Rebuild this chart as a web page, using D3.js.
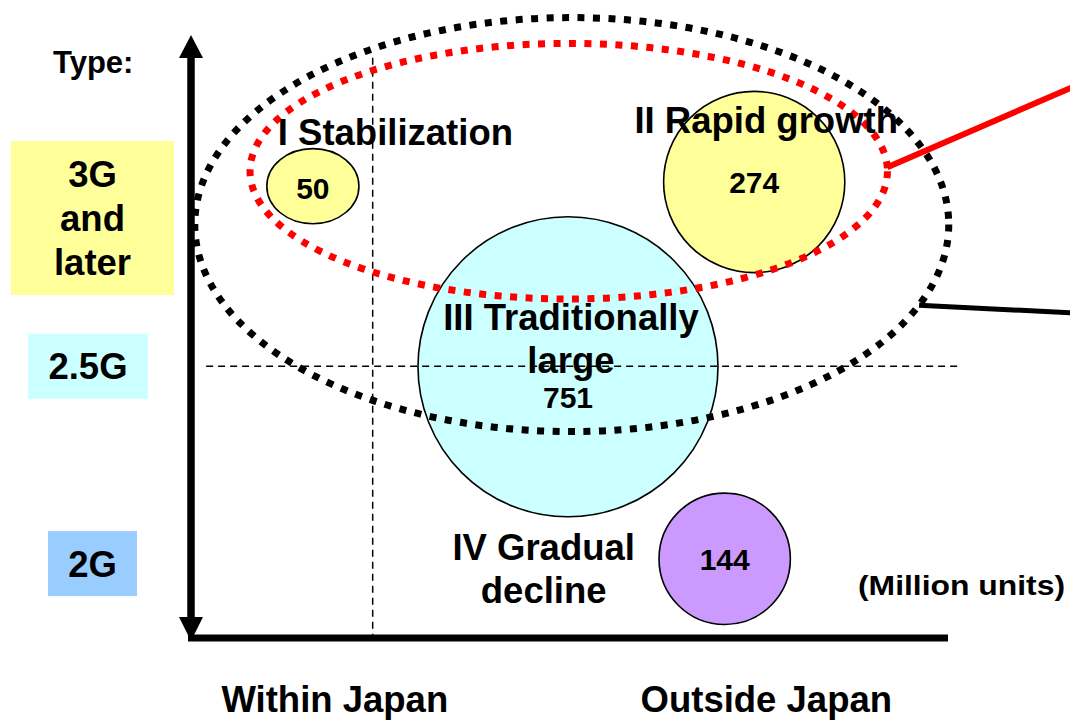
<!DOCTYPE html>
<html>
<head>
<meta charset="utf-8">
<script src="https://cdn.jsdelivr.net/npm/d3@7"></script>
<style>
  html, body { margin: 0; padding: 0; background: #ffffff; }
  svg { display: block; font-family: "Liberation Sans", Arial, sans-serif; font-weight: bold; }
</style>
</head>
<body>
<svg id="chart" width="1070" height="720"></svg>
<script>
// Handset market segments: shipments in million units
const segmentLines = [["I Stabilization"], ["II Rapid growth"], ["III Traditionally", "large"], ["IV Gradual", "decline"]];
const shipments = [50, 274, 751, 144];
// position on the market axis (0 = domestic end, 100 = far overseas)
const segmentMarket = [16.1, 74.4, 49.8, 70.5];
// position on the handset-generation axis (0 = oldest, 100 = newest)
const segmentGeneration = [75.3, 76.0, 45.2, 13.2];

const generationLines = [["3G", "and", "later"], ["2.5G"], ["2G"]];
const generationLevels = [70.0, 45.3, 12.4];

const markets = ["Within Japan", "Outside Japan"];
const marketLevels = [19, 76];

const marketDivider = 24.0;
const generationDivider = 45.3;

const unitNote = "(Million units)";
const axisTitle = "Type:";

const svg = d3.select("#chart");

const x = d3.scaleLinear().domain([0, 100]).range([191, 948]);
const y = d3.scaleLinear().domain([0, 100]).range([638, 38]);
const r = d3.scaleSqrt().domain([0, 751]).range([0, 150]);

const segFill = ["#FFFF99", "#FFFF99", "#CCFFFF", "#CC99FF"];
const genFill = ["#FFFF99", "#CCFFFF", "#99CCFF"];
const bubbleAspect = [[1.19, 0.97], [1, 1], [1, 1], [1, 1]];

// ---- vertical divider
svg.append("line")
  .attr("x1", x(marketDivider)).attr("x2", x(marketDivider))
  .attr("y1", y(96.7)).attr("y2", y(0.3))
  .attr("stroke", "#000").attr("stroke-width", 1.5).attr("stroke-dasharray", "7,5");

// ---- bubbles
const seg = d3.range(shipments.length);
svg.append("g").selectAll("ellipse").data(seg).join("ellipse")
  .attr("cx", i => x(segmentMarket[i]))
  .attr("cy", i => y(segmentGeneration[i]))
  .attr("rx", i => r(shipments[i]) * bubbleAspect[i][0])
  .attr("ry", i => r(shipments[i]) * bubbleAspect[i][1])
  .attr("fill", i => segFill[i])
  .attr("stroke", "#000").attr("stroke-width", 1.6);

// ---- horizontal divider
svg.append("line")
  .attr("x1", x(2)).attr("x2", x(101.3))
  .attr("y1", y(generationDivider)).attr("y2", y(generationDivider))
  .attr("stroke", "#000").attr("stroke-width", 1.5).attr("stroke-dasharray", "7,5");

// ---- grouping ellipses (3G group in red, 2.5G+ group in black) with callout lines
const groups = [
  { cx: 50.3, cy: 68.9, rx: 49.8, ry: 34.5, color: "#000000", calloutAngle: 22.9, end: [1075, 313], w: 5 },
  { cx: 49.9, cy: 77.8, rx: 42.1, ry: 21.3, color: "#FF0000", calloutAngle: -1.8, end: [1075, 86], w: 6 }
];
groups.forEach(g => {
  const cx = x(g.cx), cy = y(g.cy);
  const rx = x(g.cx + g.rx) - cx, ry = y(g.cy - g.ry) - cy;
  svg.append("ellipse")
    .attr("cx", cx).attr("cy", cy).attr("rx", rx).attr("ry", ry)
    .attr("fill", "none").attr("stroke", g.color)
    .attr("stroke-width", 7).attr("stroke-dasharray", "7,8.5");
  const a = g.calloutAngle * Math.PI / 180;
  svg.append("line")
    .attr("x1", cx + rx * Math.cos(a)).attr("y1", cy + ry * Math.sin(a))
    .attr("x2", g.end[0]).attr("y2", g.end[1])
    .attr("stroke", g.color).attr("stroke-width", g.w);
});

// ---- axes
const ax = svg.append("g");
const axX = x.range()[0];
ax.append("line").attr("x1", axX).attr("x2", axX)
  .attr("y1", 55).attr("y2", 620).attr("stroke", "#000").attr("stroke-width", 7.5);
ax.append("path").attr("d", `M${axX},35 L${axX - 12},58 L${axX + 12},58 Z`).attr("fill", "#000");
ax.append("path").attr("d", `M${axX},641 L${axX - 12},617 L${axX + 12},617 Z`).attr("fill", "#000");
ax.append("line").attr("x1", axX - 3).attr("x2", x.range()[1])
  .attr("y1", y(0)).attr("y2", y(0)).attr("stroke", "#000").attr("stroke-width", 7);

// ---- value labels
const valueDy = [12.5, 11, 41, 11];
svg.append("g").selectAll("text").data(seg).join("text")
  .attr("x", i => x(segmentMarket[i]))
  .attr("y", i => y(segmentGeneration[i]) + valueDy[i])
  .attr("text-anchor", "middle").attr("font-size", 30).attr("fill", "#000")
  .text(i => shipments[i]);

// ---- segment names
const nameOffset = [[82.5, -41.5], [12, -49], [3, -37], [-181, 1]];
const lineGap = 43;
seg.forEach(i => {
  const t = svg.append("text")
    .attr("text-anchor", "middle").attr("font-size", 36.5).attr("fill", "#000");
  segmentLines[i].forEach((ln, k) => {
    t.append("tspan")
      .attr("x", x(segmentMarket[i]) + nameOffset[i][0])
      .attr("y", y(segmentGeneration[i]) + nameOffset[i][1] + k * lineGap)
      .text(ln);
  });
});

// ---- generation boxes on the left
const boxes = [
  { x0: 11, x1: 174, h: 154 },
  { x0: 28, x1: 148, h: 65 },
  { x0: 48, x1: 137, h: 65 }
];
generationLines.forEach((lines, i) => {
  const cy = y(generationLevels[i]);
  const b = boxes[i];
  svg.append("rect")
    .attr("x", b.x0).attr("width", b.x1 - b.x0)
    .attr("y", cy - b.h / 2).attr("height", b.h)
    .attr("fill", genFill[i]);
  const cx = (b.x0 + b.x1) / 2;
  const t = svg.append("text").attr("text-anchor", "middle")
    .attr("font-size", 36.5).attr("fill", "#000");
  const n = lines.length;
  lines.forEach((ln, k) => {
    t.append("tspan").attr("x", cx)
      .attr("y", cy + 13 + (k - (n - 1) / 2) * 44)
      .text(ln);
  });
});

svg.append("text").attr("x", 53).attr("y", 73)
  .attr("font-size", 31).attr("fill", "#000").text(axisTitle);

// ---- market labels
svg.append("g").selectAll("text").data(markets).join("text")
  .attr("x", (d, i) => x(marketLevels[i]))
  .attr("y", 712)
  .attr("text-anchor", "middle").attr("font-size", 36.5).attr("fill", "#000")
  .text(d => d);

svg.append("text").attr("x", 858).attr("y", 595)
  .attr("font-size", 28).attr("fill", "#000")
  .attr("textLength", 207).attr("lengthAdjust", "spacingAndGlyphs")
  .text(unitNote);
</script>
</body>
</html>
